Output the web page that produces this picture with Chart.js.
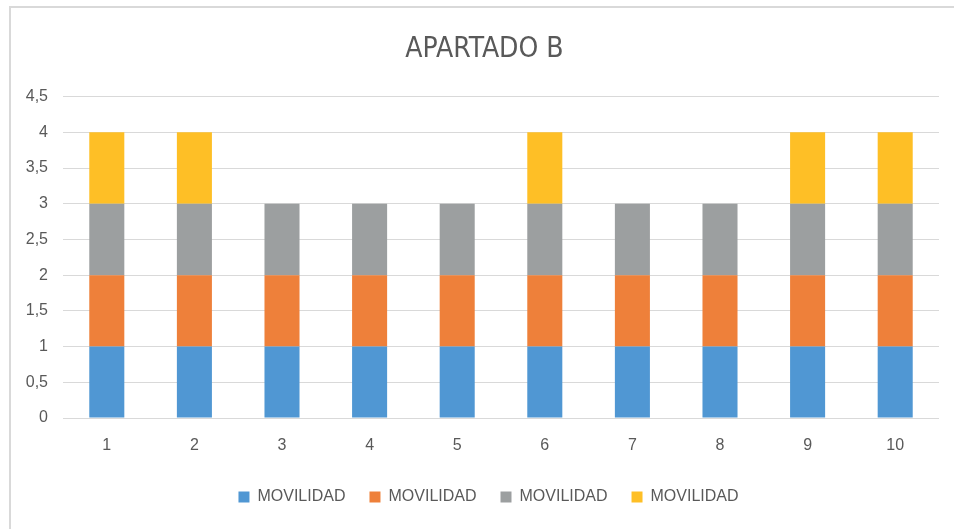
<!DOCTYPE html>
<html>
<head>
<meta charset="utf-8">
<script src="https://cdn.jsdelivr.net/npm/chart.js"></script>
<style>
  html, body { margin: 0; padding: 0; background: #fff; overflow: hidden; }
  .frame { position: absolute; left: 9px; top: 6px; width: 1000px; height: 1000px; border: 2px solid #d9d9d9; }
  .wrap { position: absolute; left: 0; top: 0; width: 954px; height: 529px; }
</style>
</head>
<body>
<div class="frame"></div>
<div class="wrap"><canvas id="chart"></canvas></div>
<script>
// data
const categories = ['1', '2', '3', '4', '5', '6', '7', '8', '9', '10'];
const seriesNames = ['MOVILIDAD', 'MOVILIDAD', 'MOVILIDAD', 'MOVILIDAD'];
const serie1 = [1, 1, 1, 1, 1, 1, 1, 1, 1, 1];
const serie2 = [1, 1, 1, 1, 1, 1, 1, 1, 1, 1];
const serie3 = [1, 1, 1, 1, 1, 1, 1, 1, 1, 1];
const serie4 = [1, 1, 0, 0, 0, 1, 0, 0, 1, 1];
const colors = ['#5097D3', '#EE803A', '#9C9FA0', '#FEBF26'];

const textColor = '#595959';
const baseFont = "'Liberation Sans', Arial, sans-serif";

const datasets = [serie1, serie2, serie3, serie4].map((vals, i) => ({
  label: seriesNames[i],
  data: vals,
  backgroundColor: colors[i],
  borderWidth: 0,
  categoryPercentage: 1,
  barPercentage: 0.4
}));

// nudge title and legend to the right, like the excel original
const shiftBoxes = {
  id: 'shiftBoxes',
  afterUpdate(chart) {
    if (chart.legend) { chart.legend.left += 19; chart.legend.right += 19; }
    if (chart.titleBlock) { chart.titleBlock.left += 15; chart.titleBlock.right += 15; }
  }
};

new Chart(document.getElementById('chart'), {
  type: 'bar',
  data: { labels: categories, datasets: datasets },
  plugins: [shiftBoxes],
  options: {
    responsive: true,
    maintainAspectRatio: false,
    animation: false,
    layout: { padding: { top: 6, right: 15, bottom: 14, left: 0 } },
    plugins: {
      title: {
        display: true,
        text: 'APARTADO B',
        color: textColor,
        font: { family: "'Liberation Sans Narrow', 'DejaVu Sans Condensed', sans-serif", size: 28, weight: 'normal' },
        padding: { top: 27, bottom: 30 }
      },
      legend: {
        position: 'bottom',
        labels: {
          color: textColor,
          font: { family: baseFont, size: 16 },
          boxWidth: 11,
          boxHeight: 11,
          padding: 24
        }
      },
      tooltip: { enabled: false }
    },
    scales: {
      x: {
        stacked: true,
        grid: { display: false },
        border: { display: false },
        ticks: { color: textColor, font: { family: baseFont, size: 16 }, padding: 10 },
        afterFit: (s) => { s.height = 47; }
      },
      y: {
        stacked: true,
        min: 0,
        max: 4.5,
        grid: { color: '#d9d9d9', lineWidth: 1, drawTicks: false },
        border: { display: false },
        ticks: {
          stepSize: 0.5,
          color: textColor,
          font: { family: baseFont, size: 16 },
          padding: 15,
          callback: (v) => String(v).replace('.', ',')
        },
        afterFit: (s) => { s.width = 63; }
      }
    }
  }
});
</script>
</body>
</html>
